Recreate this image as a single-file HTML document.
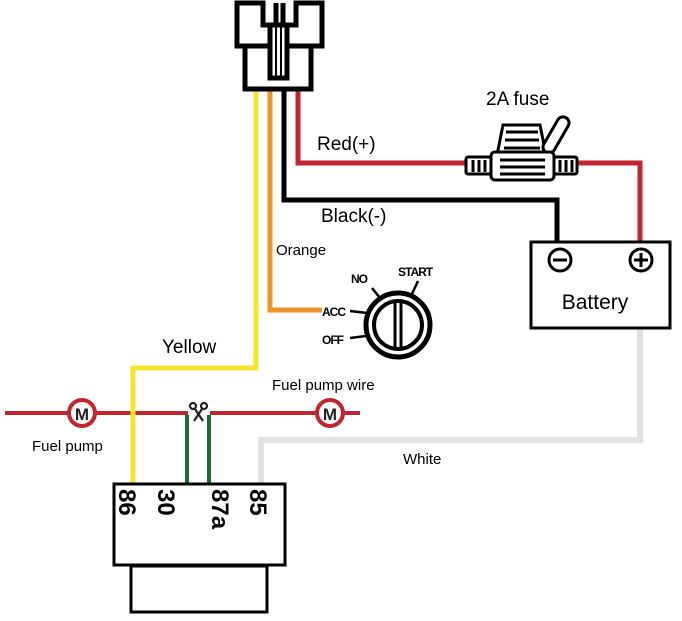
<!DOCTYPE html>
<html><head><meta charset="utf-8"><style>
html,body{margin:0;padding:0;background:#fff}
svg{display:block}
text{font-family:"Liberation Sans",sans-serif}
</style></head><body>
<svg width="682" height="621" viewBox="0 0 682 621" xmlns="http://www.w3.org/2000/svg">
<g fill="none" stroke-linejoin="miter">
<polyline points="640,270 640,440 261,440 261,485" stroke="#e2e2e2" stroke-width="6"/>
<polyline points="298,88 298,163 470,163" stroke="#c3262e" stroke-width="5"/>
<polyline points="575,163 640,163 640,243" stroke="#c3262e" stroke-width="5"/>
<polyline points="284,88 284,200 557,200 557,243" stroke="#000" stroke-width="5"/>
<polyline points="270,88 270,310 322,310" stroke="#f0922a" stroke-width="5"/>
<polyline points="256,88 256,368 133,368 133,485" stroke="#f5e52a" stroke-width="5"/>
<line x1="5" y1="413" x2="188" y2="413" stroke="#c3262e" stroke-width="4"/>
<line x1="210" y1="413" x2="360" y2="413" stroke="#c3262e" stroke-width="4"/>
<polyline points="187,415 187,485" stroke="#1a6b35" stroke-width="4"/>
<polyline points="209,415 209,485" stroke="#1a6b35" stroke-width="4"/>
<line x1="133" y1="400" x2="133" y2="425" stroke="#f5e52a" stroke-width="5"/>
</g>
<g fill="#fff" stroke="#000" stroke-width="5">
<rect x="245" y="46" width="66" height="43"/>
<path d="M237,3 H263 V25 H296 V3 H322 V46 H237 Z"/>
<rect x="270" y="25" width="17" height="53"/>
<line x1="276" y1="3" x2="276" y2="25"/>
<line x1="283" y1="3" x2="283" y2="25"/>
<line x1="276" y1="25" x2="276" y2="78" stroke-width="2"/>
<line x1="281" y1="25" x2="281" y2="78" stroke-width="2"/>
</g>
<g stroke="#000" stroke-width="3" fill="#fff">
<path d="M497,155 L503,125 L540,125 L546,155 Z"/>
<rect x="550" y="115" width="12" height="40" rx="6" transform="rotate(30 556 135)"/>
<rect x="466" y="157" width="25" height="17" rx="2"/>
<rect x="553" y="157" width="24" height="17" rx="2"/>
<rect x="491" y="152" width="63" height="28" rx="4"/>
</g>
<g stroke="#000" stroke-width="3">
<line x1="506" y1="132" x2="538" y2="132"/><line x1="505" y1="140" x2="539" y2="140"/><line x1="504" y1="148" x2="540" y2="148"/>
<line x1="500" y1="160" x2="545" y2="160"/><line x1="500" y1="167" x2="545" y2="167"/><line x1="500" y1="174" x2="545" y2="174"/>
<line x1="473" y1="160" x2="473" y2="172"/><line x1="479" y1="160" x2="479" y2="172"/><line x1="485" y1="160" x2="485" y2="172"/>
<line x1="560" y1="160" x2="560" y2="172"/><line x1="566" y1="160" x2="566" y2="172"/><line x1="572" y1="160" x2="572" y2="172"/>
</g>
<rect x="531" y="242" width="139" height="86" fill="#fff" stroke="#000" stroke-width="3"/>
<circle cx="560" cy="260" r="11" fill="none" stroke="#000" stroke-width="3"/>
<line x1="553" y1="260" x2="567" y2="260" stroke="#000" stroke-width="3"/>
<circle cx="641" cy="260" r="11" fill="none" stroke="#000" stroke-width="3"/>
<line x1="634" y1="260" x2="648" y2="260" stroke="#000" stroke-width="3"/>
<line x1="641" y1="253" x2="641" y2="267" stroke="#000" stroke-width="3"/>
<text x="595" y="309" font-size="21" text-anchor="middle">Battery</text>
<circle cx="398" cy="325" r="32" fill="#fff" stroke="#000" stroke-width="5"/>
<circle cx="398" cy="325" r="24" fill="none" stroke="#000" stroke-width="4"/>
<line x1="395" y1="300" x2="395" y2="350" stroke="#000" stroke-width="3"/>
<line x1="401" y1="300" x2="401" y2="350" stroke="#000" stroke-width="3"/>
<g stroke="#000" stroke-width="2.5">
<line x1="350" y1="311" x2="367" y2="313"/><line x1="350" y1="338" x2="366" y2="336"/>
<line x1="372" y1="288" x2="380" y2="298"/><line x1="418" y1="281" x2="412" y2="294"/>
</g>
<g font-weight="bold" font-size="12" letter-spacing="-1">
<text x="322" y="316">ACC</text><text x="322" y="344">OFF</text>
<text x="351" y="283">NO</text><text x="398" y="276">START</text>
</g>
<circle cx="82" cy="413" r="13" fill="#fff" stroke="#c3262e" stroke-width="4"/>
<text x="82" y="420" font-size="17" font-weight="bold" text-anchor="middle" fill="#222">M</text>
<circle cx="330" cy="413" r="13" fill="#fff" stroke="#c3262e" stroke-width="4"/>
<text x="330" y="420" font-size="17" font-weight="bold" text-anchor="middle" fill="#222">M</text>
<g stroke="#222" stroke-width="2.2" fill="none">
<circle cx="193" cy="406" r="3"/><circle cx="204" cy="406" r="3"/>
<line x1="195" y1="409" x2="203" y2="421"/><line x1="202" y1="409" x2="194" y2="421"/>
</g>
<rect x="131" y="566" width="136" height="46" fill="#fff" stroke="#000" stroke-width="3"/>
<rect x="114" y="484" width="171" height="81" fill="#fff" stroke="#000" stroke-width="3"/>
<g font-weight="bold" font-size="24">
<text transform="translate(119,489) rotate(90)">86</text>
<text transform="translate(158,489) rotate(90)">30</text>
<text transform="translate(212,489) rotate(90)">87a</text>
<text transform="translate(250,489) rotate(90)">85</text>
</g>
<text x="486" y="105" font-size="19">2A fuse</text>
<text x="317" y="150" font-size="19">Red(+)</text>
<text x="321" y="222" font-size="19">Black(-)</text>
<text x="276" y="255" font-size="15">Orange</text>
<text x="162" y="353" font-size="19">Yellow</text>
<text x="272" y="390" font-size="15">Fuel pump wire</text>
<text x="32" y="451" font-size="15">Fuel pump</text>
<text x="403" y="464" font-size="15">White</text>
</svg>
</body></html>
